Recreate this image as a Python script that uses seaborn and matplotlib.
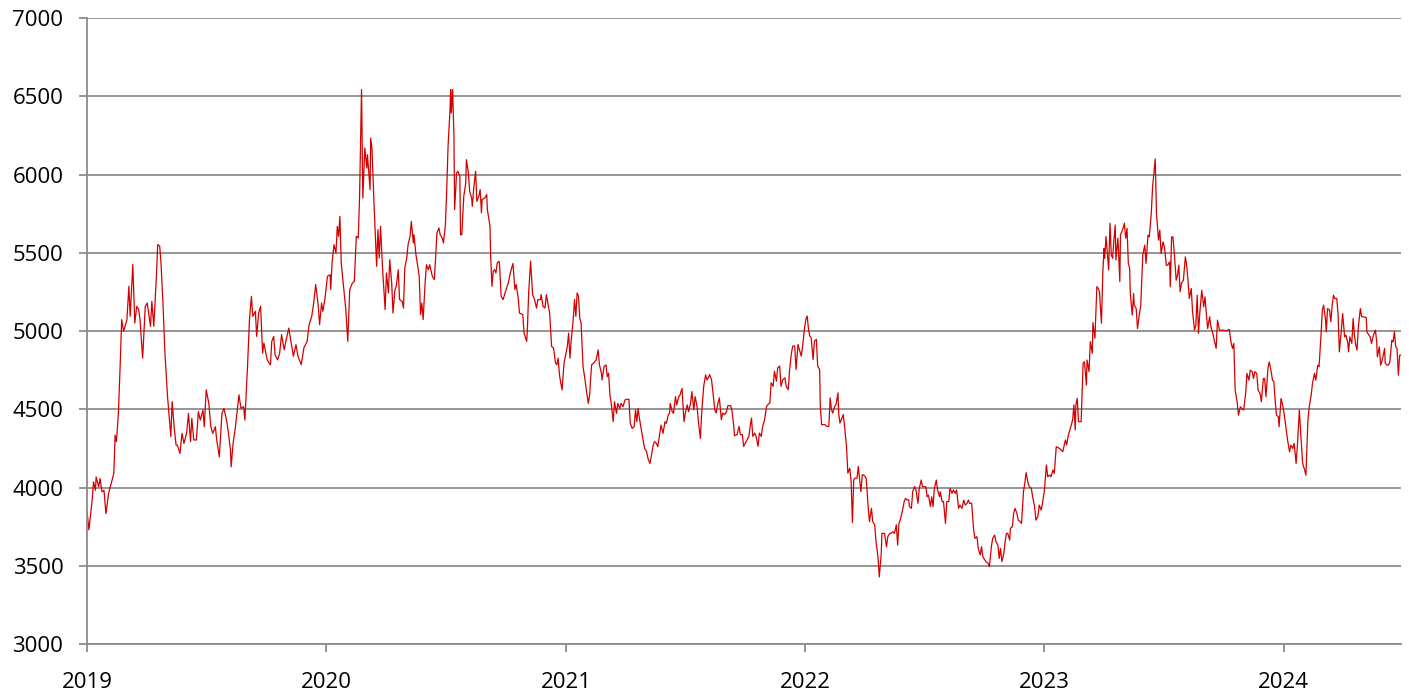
import pandas as pd
import matplotlib.pyplot as plt
import matplotlib.dates as mdates
import seaborn as sns

sns.set_style("white")
plt.rcParams["font.family"] = ["Open Sans", "DejaVu Sans"]

# daily price series (days counted from start)
start = "2019-01-01"

days = [
    0, 3, 8, 10, 13, 14, 18, 20, 23, 26, 29, 33, 41, 43, 45, 48, 51, 53, 56, 61, 64, 66, 70, 73, 76, 79, 81, 85, 89,
    92, 97, 99, 102, 106, 108, 111, 113, 116, 119, 123, 126, 128, 130, 133, 136, 138, 142, 145, 148, 152, 155, 158,
    160, 163, 167, 170, 173, 177, 179, 182, 186, 189, 192, 196, 198, 202, 206, 209, 213, 216, 219, 220, 223, 226,
    230, 232, 235, 239, 241, 245, 248, 251, 253, 257, 259, 262, 265, 268, 270, 275, 280, 282, 285, 287, 291, 294,
    297, 301, 304, 308,
    310, 315, 319, 322, 327, 331, 336, 339, 343, 346, 349, 353, 355, 358, 360, 363, 367, 371, 372, 374, 377, 380,
    382, 384, 386, 388, 392, 395, 398, 401, 405, 408, 411, 414, 416, 419, 421, 424, 427, 428, 432, 433, 435, 438,
    442, 444, 446, 448, 451, 455, 457, 460, 462, 465, 467, 470, 472, 475, 477, 481, 483, 485, 488, 490, 493, 495,
    498, 499, 502, 504, 507, 509, 511, 513, 516, 518, 521, 523, 527, 530, 532, 534, 537, 539, 542, 544, 547, 549,
    551, 554, 555, 556, 558, 560, 561, 564, 566, 569, 570, 572, 575, 578, 579, 582, 584, 587, 588, 590, 593, 595,
    598, 600, 602, 603, 607, 610, 611, 615, 616, 618, 620, 622, 624, 626, 629,
    630, 632, 635, 638, 643, 646, 650, 653, 655, 658, 660, 665, 667, 671, 672, 674, 677, 680, 683, 686, 688, 692,
    693, 696, 699, 701, 706, 709, 712, 715, 717, 719, 721, 723, 725, 728, 730, 733, 735, 737, 739, 742, 744, 746,
    748, 750, 752, 754, 757, 760, 762, 765, 767, 770, 773, 777, 780, 782, 785, 786, 789, 792, 794, 796, 798, 800,
    803, 805, 808, 810, 813, 815, 818, 821, 824, 827, 829, 832, 835, 837, 839, 841, 843, 846, 849, 851, 854, 856,
    859, 861, 864, 866, 869, 871, 874, 876, 879, 882, 884, 887, 889, 890, 893, 895, 898, 900, 903, 905, 908, 911,
    913, 916, 918, 921, 923, 926, 928, 931, 933, 936, 938, 941, 944, 946, 949,
    950, 953, 955, 958, 960, 963, 965, 968, 970, 973, 976, 978, 982, 984, 987, 988, 992, 995, 997, 1000, 1002,
    1006, 1010, 1012, 1014, 1016, 1019, 1021, 1024, 1026, 1029, 1031, 1034, 1037, 1039, 1042, 1044, 1047, 1049,
    1052, 1054, 1057, 1059, 1062, 1065, 1067, 1070, 1072, 1075, 1077, 1080, 1082, 1085, 1087, 1090, 1092, 1095,
    1097, 1099, 1101, 1103, 1105, 1108, 1110, 1113, 1115, 1118, 1119, 1121, 1126, 1129, 1132, 1134, 1136, 1138,
    1141, 1143, 1146, 1147, 1149, 1152, 1154, 1156, 1159, 1161, 1164, 1166, 1168, 1170, 1172, 1175, 1177, 1179,
    1181, 1183, 1185, 1189, 1192, 1194, 1197, 1199, 1202, 1204, 1207, 1209, 1212, 1213, 1217, 1220, 1222, 1225,
    1227, 1230, 1232, 1235, 1237, 1239, 1241, 1244, 1247, 1249, 1251, 1254, 1255, 1258, 1260, 1263, 1265, 1268,
    1270, 1273, 1275, 1280, 1282, 1284, 1287, 1289, 1291, 1293, 1296, 1298, 1301, 1302, 1305, 1307, 1310, 1312,
    1315, 1317, 1320, 1322, 1325, 1327, 1330, 1332, 1335, 1338, 1340, 1343, 1345, 1347, 1350, 1353, 1355, 1358,
    1360, 1363, 1365, 1367, 1370, 1372, 1375, 1377, 1380, 1382, 1385, 1387, 1390, 1392, 1394, 1396, 1399, 1401,
    1403, 1405, 1408, 1409, 1412, 1414, 1416, 1419, 1421, 1424, 1426, 1429, 1431, 1433, 1436, 1438, 1441, 1443,
    1446, 1448, 1451, 1453, 1456, 1458, 1461, 1464, 1466, 1469, 1471, 1474, 1476, 1479, 1484, 1489, 1493, 1495,
    1497, 1499, 1502, 1504, 1506, 1508, 1509, 1511, 1513, 1517, 1520, 1522, 1525, 1526, 1529, 1531, 1534, 1535,
    1538, 1541, 1543, 1545, 1546, 1548, 1550, 1552, 1553, 1555, 1557, 1559, 1561, 1563, 1565, 1567, 1569, 1570,
    1573, 1574, 1576, 1577, 1581, 1583, 1585, 1587, 1589,
    1591, 1592, 1595, 1597, 1598, 1601, 1603, 1606, 1608, 1611, 1614, 1616, 1619, 1621, 1624, 1626, 1628, 1630,
    1632, 1635, 1637, 1639, 1642, 1644, 1647, 1649, 1652, 1653, 1655, 1657, 1659, 1662, 1664, 1666, 1668, 1670,
    1673, 1676, 1678, 1680, 1682, 1685, 1687, 1690, 1692, 1694, 1696, 1698, 1701, 1704, 1706, 1708, 1710, 1713,
    1715, 1718, 1720, 1723, 1725, 1728, 1733, 1738, 1743, 1746, 1748, 1750, 1752, 1755, 1757, 1760, 1762, 1765,
    1768, 1770, 1773, 1775, 1778, 1780, 1782, 1785, 1787, 1790, 1792, 1795, 1797, 1799, 1802, 1804, 1807, 1809,
    1811, 1813, 1815, 1818, 1819, 1822, 1825, 1827, 1830, 1832, 1835, 1837, 1840, 1842, 1845, 1847, 1850, 1852,
    1855, 1858, 1860, 1863, 1865, 1868, 1870, 1873, 1875, 1878, 1880, 1883, 1885, 1887, 1890, 1891, 1893, 1896,
    1898, 1900, 1902, 1904, 1907, 1909, 1911, 1914, 1916, 1919, 1921, 1924, 1925, 1927, 1930, 1932, 1934, 1936,
    1938, 1940, 1943, 1945, 1948, 1952, 1953, 1956, 1958, 1960, 1963, 1966, 1968, 1969, 1972, 1974, 1977, 1980,
    1981, 1984, 1986, 1988, 1991, 1993, 1995, 1997, 1999, 2001, 2003, 2005,
]

price = [
    3855, 3730, 3919, 4036, 3983, 4068, 4004, 4058, 3972, 3983, 3833, 3962, 4090, 4335, 4293, 4474, 4816, 5073,
    4998, 5073, 5286, 5094, 5425, 5051, 5158, 5137, 5073, 4827, 5158, 5179, 5030, 5190, 5030, 5350, 5553, 5543,
    5436, 5179, 4859, 4581, 4431, 4325, 4549, 4389, 4271, 4271, 4218, 4346, 4282, 4346, 4474, 4293, 4442, 4304,
    4304, 4485, 4431, 4495, 4389, 4624, 4538, 4389, 4346, 4389, 4304, 4196, 4474, 4506, 4431, 4346, 4239, 4132,
    4282, 4367, 4517, 4592, 4506, 4517, 4431, 4773, 5073, 5222, 5094, 5126, 4966, 5115, 5158, 4859, 4923, 4816,
    4784, 4934, 4966, 4848, 4816, 4859, 4977, 4880, 4944, 5019,
    4966, 4839, 4913, 4839, 4785, 4892, 4934, 5041, 5094, 5179, 5297, 5158, 5041, 5179, 5126, 5201, 5350, 5360,
    5265, 5435, 5552, 5499, 5669, 5605, 5733, 5435, 5265, 5137, 4934, 5265, 5307, 5318, 5605, 5595, 5861, 6543,
    5850, 6170, 6042, 6127, 5904, 6234, 6159, 5818, 5414, 5648, 5467, 5669, 5403, 5137, 5371, 5243, 5456, 5307,
    5115, 5265, 5286, 5392, 5201, 5190, 5147, 5403, 5467, 5552, 5605, 5701, 5563, 5616, 5488, 5435, 5350, 5105,
    5179, 5073, 5307, 5424, 5392, 5424, 5350, 5329, 5467, 5627, 5659, 5616, 5595, 5563, 5680, 5904, 6181, 6415,
    6543, 6394, 6543, 6244, 5776, 6010, 6021, 5989, 5616, 5616, 5861, 5946, 6095, 6010, 5893, 5850, 5797, 5904,
    6021, 5829, 5861, 5904, 5755, 5840, 5850, 5872, 5776, 5669, 5478, 5286, 5382, 5392, 5371, 5435, 5446,
    5393, 5222, 5201, 5244, 5308, 5372, 5432, 5265, 5297, 5211, 5115, 5105, 4987, 4934, 5008, 5244, 5447, 5233,
    5201, 5147, 5201, 5201, 5233, 5158, 5147, 5233, 5115, 4902, 4891, 4795, 4784, 4827, 4720, 4667, 4624, 4795,
    4838, 4902, 4987, 4827, 4944, 5073, 5201, 5094, 5244, 5222, 5083, 5051, 4773, 4688, 4624, 4538, 4592, 4784,
    4795, 4816, 4880, 4784, 4731, 4688, 4773, 4784, 4709, 4731, 4592, 4538, 4421, 4549, 4474, 4538, 4506, 4538,
    4517, 4560, 4564, 4564, 4410, 4378, 4389, 4496, 4421, 4506, 4442, 4367, 4293, 4250, 4229, 4186, 4154, 4196,
    4271, 4293, 4282, 4261, 4346, 4399, 4346, 4421, 4410, 4464, 4474, 4538, 4485, 4474, 4581, 4528, 4581, 4592,
    4634, 4421, 4474, 4528, 4485, 4538, 4613, 4496, 4581, 4517, 4421, 4314, 4474, 4645, 4720, 4688, 4709,
    4722, 4690, 4615, 4498, 4476, 4541, 4573, 4434, 4476, 4466, 4487, 4523, 4523, 4498, 4391, 4331, 4338, 4391,
    4338, 4338, 4263, 4295, 4327, 4391, 4444, 4327, 4348, 4327, 4263, 4348, 4327, 4391, 4434, 4519, 4530, 4541,
    4669, 4647, 4744, 4679, 4765, 4776, 4647, 4690, 4701, 4647, 4626, 4744, 4861, 4904, 4904, 4754, 4915, 4882,
    4840, 4904, 5021, 5075, 5096, 5011, 4968, 4957, 4818, 4936, 4947, 4776, 4754, 4519, 4402, 4402, 4391, 4391,
    4573, 4498, 4476, 4519, 4530, 4605, 4476, 4412, 4444, 4466, 4391, 4263, 4092, 4124, 4039, 3776, 4049, 4060,
    4060, 4135, 4049, 3974, 4081, 4081, 4060, 3878, 3782, 3867, 3782, 3761, 3654, 3557, 3429, 3579, 3707, 3707,
    3621, 3686, 3707, 3707, 3718, 3707, 3761, 3632, 3771, 3793, 3846, 3910, 3931, 3921, 3921, 3878, 3867, 3974,
    4006, 3985, 3899,
    3995, 4048, 4005, 4005, 3941, 3952, 3878, 3941, 3878, 3995, 4048, 3984, 3941, 3973, 3910, 3910, 3771, 3910,
    3910, 3995, 3963, 3984, 3963, 3984, 3867, 3888, 3867, 3920, 3888, 3899, 3920, 3899, 3899, 3728, 3675, 3686,
    3611, 3569, 3622, 3558, 3537, 3526, 3516, 3494, 3622, 3675, 3696, 3654, 3633, 3547, 3611, 3526, 3579, 3654,
    3707, 3707, 3664, 3739, 3750, 3835, 3867, 3835, 3792, 3782, 3771, 3973, 4027, 4095, 4027, 4005, 3995, 3941,
    3878, 3792, 3814, 3888, 3856, 3899, 3984, 4144, 4069, 4080, 4069, 4112, 4091, 4261, 4250, 4229, 4304, 4272,
    4325, 4357, 4400, 4432, 4528, 4368, 4528, 4570, 4421, 4421, 4794, 4804, 4655, 4815, 4741, 4932, 4858, 5054,
    4954, 5284, 5273, 5252, 5177, 5050, 5369, 5529, 5465, 5604, 5497, 5391, 5689, 5486, 5465, 5582, 5678, 5454,
    5593, 5518, 5316, 5614, 5657, 5689, 5593, 5657, 5433,
    5400, 5240, 5102, 5240, 5165, 5144, 5016, 5112, 5165, 5485, 5549, 5432, 5613, 5602, 5751, 5922, 6007, 6100,
    5751, 5581, 5645, 5496, 5570, 5538, 5421, 5421, 5442, 5283, 5602, 5602, 5506, 5325, 5357, 5421, 5251, 5304,
    5325, 5474, 5421, 5325, 5208, 5272, 5123, 5006, 5038, 5229, 4985, 5112, 5261, 5155, 5219, 5112, 5016, 5091,
    5027, 4985, 4942, 4889, 5070, 5006, 5006, 5002, 5010, 4921, 4889, 4921, 4622, 4548, 4463, 4516, 4505, 4495,
    4601, 4729, 4686, 4750, 4740, 4697, 4740, 4729, 4622, 4601, 4548, 4697, 4697, 4580, 4761, 4803, 4740, 4686,
    4676, 4559, 4463, 4452, 4388, 4569, 4516, 4463, 4367, 4303, 4228, 4271, 4250, 4282, 4154, 4271, 4495, 4346,
    4154, 4112, 4079, 4431, 4516, 4590, 4665, 4729, 4686, 4782, 4772, 4974, 5134, 5166, 5070, 4995, 5144, 5134,
    5059, 5166, 5229, 5208, 5208, 5112, 4867, 5006, 5112, 4963, 4974, 4921, 4867, 4963, 4921, 5080, 4974, 4910,
    4878, 5027, 5144, 5091, 5091, 5087, 4995, 4974, 4963, 4921, 4974, 5006, 4931, 4835, 4899, 4782, 4825, 4889,
    4793, 4782, 4782, 4803, 4942, 4931, 4995, 4899, 4889, 4718, 4846, 4846,
]

y_ticks = list(range(3000, 7001, 500))
grid_gray = "#8c8c8c"

df = pd.DataFrame({
    "date": pd.Timestamp(start) + pd.to_timedelta(days, unit="D"),
    "price": price,
})

fig, ax = plt.subplots(figsize=(14.09, 6.96), dpi=100)
fig.subplots_adjust(left=0.0617, right=0.9943, bottom=0.0747, top=0.974)

sns.lineplot(data=df, x="date", y="price", color="#d40000", linewidth=0.9,
             estimator=None, ax=ax)

ax.set_xlim(df["date"].iloc[0], df["date"].iloc[-1])
ax.set_ylim(3000, 7000)
ax.set_yticks(y_ticks)
ax.xaxis.set_major_locator(mdates.YearLocator())
ax.xaxis.set_major_formatter(mdates.DateFormatter("%Y"))

ax.grid(axis="y", color=grid_gray, linewidth=1.3)
ax.grid(axis="x", visible=False)
ax.set_axisbelow(True)
for side in ["top", "right"]:
    ax.spines[side].set_visible(False)
for side in ["left", "bottom"]:
    ax.spines[side].set_color(grid_gray)
    ax.spines[side].set_linewidth(1.3)

ax.tick_params(axis="both", direction="out", length=6, width=1.3, color=grid_gray,
               labelsize=16, labelcolor="black", left=True, bottom=True)
ax.tick_params(axis="y", pad=11)
ax.tick_params(axis="x", pad=14)
ax.set_xlabel("")
ax.set_ylabel("")

fig.savefig("out.png", dpi=100)
